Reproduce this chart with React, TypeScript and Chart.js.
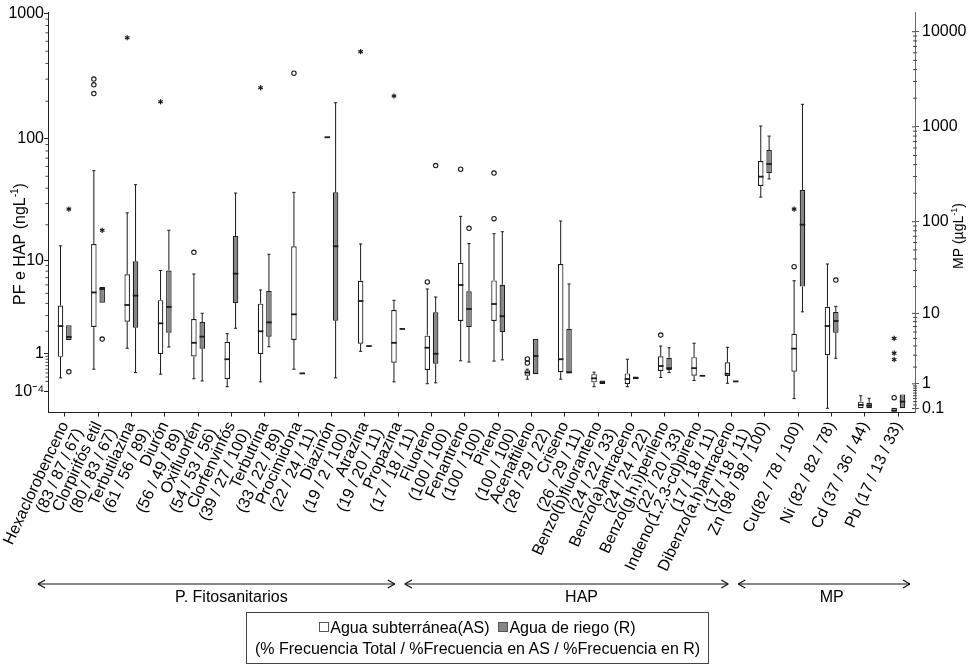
import React, { useEffect, useRef } from 'react';
import { Chart, registerables } from 'chart.js';

Chart.register(...registerables);

const FONT = "'Liberation Sans', Arial, Helvetica, sans-serif";

// ---------- categories ----------
const CATEGORIES: (string | string[])[] = [
  ['Hexaclorobenceno', '(83 / 87 / 67)'],
  ['Clorpirifós etil', '(80 / 83 / 67)'],
  ['Terbutilazina', '(61 / 56 / 89)'],
  ['Diurón', '(56 / 49 / 89)'],
  ['Oxifluorfén', '(54 / 53 / 56)'],
  ['Clorfenvinfós', '(39 / 27 / 100)'],
  ['Terbutrina', '(33 / 22 / 89)'],
  ['Procimidona', '(22 / 24 / 11)'],
  ['Diazinón', '(19 / 2 / 100)'],
  ['Atrazina', '(19 / 20 / 11)'],
  ['Propazina', '(17 / 18 / 11)'],
  ['Fluoreno', '(100 / 100)'],
  ['Fenantreno', '(100 / 100)'],
  ['Pireno', '(100 / 100)'],
  ['Acenaftileno', '(28 / 29 / 22)'],
  ['Criseno', '(26 / 29 / 11)'],
  ['Benzo(b)fluoranteno', '(24 / 22 / 33)'],
  ['Benzo(a)antraceno', '(24 / 24 / 22)'],
  ['Benzo(g,h,i)perileno', '(22 / 20 / 33)'],
  ['Indeno(1,2,3-cd)pireno', '(17 / 18 / 11)'],
  ['Dibenzo(a,h)antraceno', '(17 / 18 / 11)'],
  'Zn (98 / 98 / 100)',
  'Cu(82 / 78 / 100)',
  'Ni (82 / 82 / 78)',
  'Cd (37 / 36 / 44)',
  'Pb (17 / 13 / 33)',
];

const GROUPS = [
  { name: 'P. Fitosanitarios', first: 0, last: 10, axis: 'y' },
  { name: 'HAP', first: 11, last: 20, axis: 'y' },
  { name: 'MP', first: 21, last: 25, axis: 'y1' },
];

// ---------- Agua subterránea (AS) ----------
const AS_LOW = [0.28, 0.5, 1.2, 0.37, 0.26, 0.09, 0.19, 0.5, 103, 1.08, 0.19, 0.15, 0.75, 0.74, 0.25, 0.25, 0.09, 0.09, 0.29, 0.22, 0.16, 182, 0.4, 0.107, 0.107, 0.02];
const AS_Q1 = [0.88, 2.24, 2.57, 0.98, 0.89, 0.25, 0.98, 1.56, 103, 1.39, 0.69, 0.48, 2.62, 2.62, 0.33, 0.42, 0.18, 0.145, 0.45, 0.33, 0.325, 238, 1.68, 2.99, 0.107, 0.02];
const AS_MED = [2.3, 5.1, 3.85, 2.47, 1.43, 0.8, 2.0, 3.09, 103, 4.22, 1.43, 1.22, 5.99, 3.94, 0.41, 0.8, 0.27, 0.254, 0.59, 0.53, 0.38, 299, 3.68, 7.1, 0.2, 0.05];
const AS_Q3 = [3.8, 13.8, 7.5, 4.3, 2.75, 1.48, 3.97, 13.2, 103, 6.56, 3.43, 1.77, 9.5, 6.6, 0.47, 9.26, 0.37, 0.39, 0.9, 0.87, 0.7, 437, 5.7, 11.9, 0.3, 0.12];
const AS_HIGH = [13.3, 55.5, 25.1, 8.1, 7.55, 1.87, 5.38, 37, 103, 13.8, 4.28, 5.5, 23.5, 16.85, 0.5, 21.5, 0.42, 0.8, 1.29, 1.41, 1.24, 1021, 23.2, 35.3, 0.5, 0.12];
const AS_CIRCLES: number[][] = [[], [230, 270, 300], [], [], [11.7], [], [], [334], [], [], [], [6.4], [57], [22.5, 53], [0.68, 0.81], [], [], [], [1.8], [], [], [], [33], [], [], [0.43]];
const AS_STARS: number[][] = [[], [], [640], [198], [], [], [256], [], [], [496], [220], [], [], [], [], [], [], [], [], [], [], [], [136], [], [], [2.6, 3.2, 5.0]];

// ---------- Agua de riego (R) ----------
const R_LOW = [1.56, 4.06, 0.41, 1.25, 0.21, 2.17, 1.26, 0.39, 0.28, 1.29, 2.13, 0.17, 0.71, 0.78, 0.37, 0.39, 0.145, 0.25, 0.41, 0.33, 0.2, 283, 10.4, 2.71, 0.107, 0.107];
const R_Q1 = [1.56, 4.06, 2.2, 1.92, 1.18, 4.03, 1.72, 0.39, 2.64, 1.29, 2.13, 0.66, 2.23, 1.96, 0.37, 0.39, 0.145, 0.25, 0.48, 0.33, 0.2, 325, 20, 5.89, 0.107, 0.107];
const R_MED = [1.7, 5.5, 4.75, 3.68, 1.72, 7.6, 2.53, 0.39, 13.2, 1.29, 2.13, 0.99, 3.51, 2.95, 0.91, 0.42, 0.18, 0.28, 0.53, 0.33, 0.2, 407, 93, 8.14, 0.18, 0.3];
const R_Q3 = [2.35, 5.74, 9.8, 8.1, 2.55, 16.1, 5.26, 0.39, 37, 1.29, 2.13, 3.25, 5.23, 6.03, 1.6, 2.14, 0.22, 0.31, 0.85, 0.33, 0.2, 570, 216, 10.4, 0.267, 0.55];
const R_HIGH = [2.35, 5.74, 42.7, 18.0, 3.17, 36.5, 11.25, 0.39, 194.5, 1.29, 2.13, 4.61, 13.9, 17.5, 1.6, 6.12, 0.22, 0.31, 1.22, 0.33, 0.2, 800, 1726, 12, 0.41, 0.55];
const R_CIRCLES: number[][] = [[0.43], [1.6], [], [], [], [], [], [], [], [], [], [61], [18.7], [], [], [], [], [], [], [], [], [], [], [23.6], [], []];
const R_STARS: number[][] = [[27], [18], [], [], [], [], [], [], [], [], [], [], [], [], [], [], [], [], [], [], [], [], [], [], [], []];

// ---------- axes ----------
const LEFT_TICKS = [0.0001, 1, 10, 100, 1000];
const LEFT_TICK_LABELS = ['10⁻⁴', '1', '10', '100', '1000'];
const RIGHT_TICKS = [0.1, 1, 10, 100, 1000, 10000];
const RIGHT_TICK_LABELS = ['0.1', '1', '10', '100', '1000', '10000'];
const LEFT_RANGE = [-0.32, 1025];
const RIGHT_RANGE = [0, 16100];
const LEFT_MINOR_BASES = [0.1, 1, 10, 100];
const RIGHT_MINOR_BASES = [0.1, 1, 10, 100, 1000, 10000];

// log10(x + 1) transform used by both value axes
const toT = (v: number) => Math.log10(v + 1);

const AS_STATS = { low: AS_LOW, q1: AS_Q1, med: AS_MED, q3: AS_Q3, high: AS_HIGH, circles: AS_CIRCLES, stars: AS_STARS };
const R_STATS = { low: R_LOW, q1: R_Q1, med: R_MED, q3: R_Q3, high: R_HIGH, circles: R_CIRCLES, stars: R_STARS };

const axisOf = (i: number) => (GROUPS.find((g) => i >= g.first && i <= g.last) as any).axis;

function series(st: any, axis: string) {
  return st.q1.map((v: number, i: number) => (axisOf(i) === axis ? [toT(v), toT(st.q3[i])] : null));
}

function line(ctx: CanvasRenderingContext2D, x1: number, y1: number, x2: number, y2: number) {
  ctx.beginPath();
  ctx.moveTo(x1, y1);
  ctx.lineTo(x2, y2);
  ctx.stroke();
}

function drawRich(ctx: CanvasRenderingContext2D, segs: { t: string; sup?: boolean }[], cx: number, cy: number, size: number) {
  ctx.save();
  ctx.translate(cx, cy);
  ctx.rotate(-Math.PI / 2);
  ctx.fillStyle = '#000';
  ctx.textBaseline = 'middle';
  ctx.textAlign = 'left';
  const fonts = segs.map((s) => `${s.sup ? Math.round(size * 0.62) : size}px ${FONT}`);
  let total = 0;
  const widths = segs.map((s, k) => {
    ctx.font = fonts[k];
    const w = ctx.measureText(s.t).width;
    total += w;
    return w;
  });
  let x = -total / 2;
  segs.forEach((s, k) => {
    ctx.font = fonts[k];
    ctx.fillText(s.t, x, s.sup ? -size * 0.33 : 0);
    x += widths[k];
  });
  ctx.restore();
}

const boxPlugin = {
  id: 'boxExtras',
  afterDatasetsDraw(chart: any) {
    const ctx: CanvasRenderingContext2D = chart.ctx;
    ctx.save();
    chart.data.datasets.forEach((ds: any, d: number) => {
      const meta = chart.getDatasetMeta(d);
      const scale = chart.scales[ds.yAxisID];
      const st: any = ds.kind === 'AS' ? AS_STATS : R_STATS;
      const py = (v: number) => scale.getPixelForValue(toT(v));
      meta.data.forEach((el: any, i: number) => {
        if (ds.data[i] == null) return;
        const { x, width } = el.getProps(['x', 'width'], true);
        ctx.strokeStyle = '#1a1a1a';
        ctx.lineWidth = 1;
        if (st.high[i] > st.q3[i]) {
          line(ctx, x, py(st.q3[i]), x, py(st.high[i]));
          line(ctx, x - 1.6, py(st.high[i]), x + 1.6, py(st.high[i]));
        }
        if (st.low[i] < st.q1[i]) {
          line(ctx, x, py(st.q1[i]), x, py(st.low[i]));
          line(ctx, x - 1.6, py(st.low[i]), x + 1.6, py(st.low[i]));
        }
        ctx.lineWidth = 1.8;
        line(ctx, x - width / 2, py(st.med[i]), x + width / 2, py(st.med[i]));
        ctx.lineWidth = 1.1;
        st.circles[i].forEach((v: number) => {
          ctx.beginPath();
          ctx.arc(x, py(v), 2.2, 0, Math.PI * 2);
          ctx.stroke();
        });
        ctx.lineWidth = 1.2;
        st.stars[i].forEach((v: number) => {
          const y = py(v);
          for (let a = 0; a < 3; a++) {
            const ang = (a * Math.PI) / 3 + Math.PI / 2;
            const dx = Math.cos(ang) * 2.6;
            const dy = Math.sin(ang) * 2.6;
            line(ctx, x - dx, y - dy, x + dx, y + dy);
          }
        });
      });
    });
    ctx.restore();
  },
  afterDraw(chart: any) {
    const ctx: CanvasRenderingContext2D = chart.ctx;
    const yl = chart.scales.y;
    const yr = chart.scales.y1;
    const xs = chart.scales.x;
    const area = chart.chartArea;
    ctx.save();
    // minor ticks
    ctx.strokeStyle = '#444';
    ctx.lineWidth = 1;
    LEFT_MINOR_BASES.forEach((b) => {
      for (let k = 2; k <= 9; k++) {
        const p = yl.getPixelForValue(toT(k * b));
        if (p >= area.top && p <= area.bottom) line(ctx, area.left - 2.5, p, area.left, p);
      }
    });
    RIGHT_MINOR_BASES.forEach((b) => {
      for (let k = 2; k <= 9; k++) {
        const p = yr.getPixelForValue(toT(k * b));
        if (p >= area.top && p <= area.bottom) line(ctx, area.right - 2, p, area.right + 2, p);
      }
    });
    RIGHT_TICKS.forEach((v) => {
      const p = yr.getPixelForValue(toT(v));
      line(ctx, area.right - 3, p, area.right, p);
    });
    // axis titles
    drawRich(ctx, [{ t: 'PF e HAP (ngL' }, { t: '-1', sup: true }, { t: ')' }], 21, 244, 16);
    drawRich(ctx, [{ t: 'MP (µgL' }, { t: '-1', sup: true }, { t: ')' }], 959, 236, 14);
    // group arrows
    const w = xs.getPixelForValue(1) - xs.getPixelForValue(0);
    const ay = 584;
    ctx.strokeStyle = '#111';
    ctx.fillStyle = '#000';
    ctx.font = `16px ${FONT}`;
    ctx.textAlign = 'center';
    ctx.textBaseline = 'middle';
    GROUPS.forEach((g, gi) => {
      const x0 = xs.getPixelForValue(g.first) - 0.8 * w;
      const x1 = gi === GROUPS.length - 1 ? area.right - 5 : xs.getPixelForValue(g.last) - 0.1 * w;
      ctx.lineWidth = 1.2;
      line(ctx, x0, ay, x1, ay);
      line(ctx, x0, ay, x0 + 7, ay - 4);
      line(ctx, x0, ay, x0 + 7, ay + 4);
      line(ctx, x1, ay, x1 - 7, ay - 4);
      line(ctx, x1, ay, x1 - 7, ay + 4);
      let sum = 0;
      for (let i = g.first; i <= g.last; i++) sum += xs.getPixelForValue(i);
      const cx = sum / (g.last - g.first + 1);
      ctx.fillText(g.name, cx, 598);
    });
    ctx.restore();
  },
};

export default function App() {
  const ref = useRef<HTMLCanvasElement | null>(null);

  useEffect(() => {
    document.body.style.margin = '0';
    Chart.defaults.font.family = FONT;
    Chart.defaults.font.size = 16;
    Chart.defaults.color = '#000';

    const common = {
      borderColor: '#1a1a1a',
      borderWidth: 1.2,
      borderSkipped: false,
      skipNull: true,
      categoryPercentage: 0.5,
      barPercentage: 0.66,
    };
    const datasets: any[] = [
      { ...common, label: 'Agua subterránea (AS)', kind: 'AS', yAxisID: 'y', data: series(AS_STATS, 'y'), backgroundColor: '#ffffff' },
      { ...common, label: 'Agua de riego (R)', kind: 'R', yAxisID: 'y', data: series(R_STATS, 'y'), backgroundColor: '#858585' },
      { ...common, label: 'Agua subterránea (AS) MP', kind: 'AS', yAxisID: 'y1', data: series(AS_STATS, 'y1'), backgroundColor: '#ffffff' },
      { ...common, label: 'Agua de riego (R) MP', kind: 'R', yAxisID: 'y1', data: series(R_STATS, 'y1'), backgroundColor: '#858585' },
    ];

    const chart = new Chart(ref.current as HTMLCanvasElement, {
      type: 'bar',
      data: { labels: CATEGORIES as any, datasets },
      options: {
        responsive: false,
        animation: false,
        devicePixelRatio: 1,
        layout: { padding: { top: 12, left: 0, right: 0, bottom: 0 } },
        plugins: { legend: { display: false }, tooltip: { enabled: false } },
        scales: {
          x: {
            type: 'category',
            offset: true,
            grid: { display: true, drawOnChartArea: false, offset: false, tickLength: 4, color: '#222' },
            border: { display: true, color: '#222', width: 1 },
            ticks: { autoSkip: false, minRotation: 65, maxRotation: 65, padding: 3, color: '#000', font: { size: 16, lineHeight: 1.0 } },
            afterFit: (s: any) => {
              s.height = 252.5;
              s.paddingLeft = 0;
              s.paddingRight = 0;
            },
          },
          y: {
            type: 'linear',
            position: 'left',
            min: toT(LEFT_RANGE[0]),
            max: toT(LEFT_RANGE[1]),
            beginAtZero: false,
            grid: { display: true, drawOnChartArea: false, tickLength: 4, color: '#222' },
            border: { display: true, color: '#222', width: 1 },
            afterBuildTicks: (s: any) => {
              s.ticks = LEFT_TICKS.map((v) => ({ value: toT(v) }));
            },
            ticks: { autoSkip: false, padding: 0, color: '#000', font: { size: 16 }, callback: (_v: any, i: number) => LEFT_TICK_LABELS[i] },
            afterFit: (s: any) => {
              s.width = 48;
              s.paddingTop = 0;
              s.paddingBottom = 0;
            },
          },
          y1: {
            type: 'linear',
            position: 'right',
            min: toT(RIGHT_RANGE[0]),
            max: toT(RIGHT_RANGE[1]),
            beginAtZero: false,
            grid: { display: true, drawOnChartArea: false, tickLength: 4, color: '#555' },
            border: { display: true, color: '#666', width: 1 },
            afterBuildTicks: (s: any) => {
              s.ticks = RIGHT_TICKS.map((v) => ({ value: toT(v) }));
            },
            ticks: { autoSkip: false, padding: 3, color: '#000', font: { size: 16 }, callback: (_v: any, i: number) => RIGHT_TICK_LABELS[i] },
            afterFit: (s: any) => {
              s.width = 59;
              s.paddingTop = 0;
              s.paddingBottom = 0;
            },
          },
        },
      } as any,
      plugins: [boxPlugin as any],
    });
    return () => chart.destroy();
  }, []);

  const sq = (bg: string) => ({
    display: 'inline-block',
    width: 8,
    height: 8,
    border: '1px solid #555',
    background: bg,
    marginRight: 1,
    verticalAlign: 'middle',
    position: 'relative' as const,
    top: -2,
  });

  return (
    <div style={{ position: 'relative', width: 974, height: 665, fontFamily: FONT }}>
      <canvas ref={ref} width={974} height={665} style={{ display: 'block' }} />
      <div
        style={{
          position: 'absolute',
          left: 246,
          top: 612,
          width: 463,
          height: 52,
          border: '1px solid #444',
          boxSizing: 'border-box',
          fontSize: 16,
          lineHeight: '21px',
          textAlign: 'center',
          paddingTop: 4,
          color: '#000',
          whiteSpace: 'nowrap',
        }}
      >
        <div>
          <span style={sq('#ffffff')} />Agua subterránea(AS)&nbsp;&nbsp;<span style={sq('#858585')} />Agua de riego (R)
        </div>
        <div>(% Frecuencia Total / %Frecuencia en AS / %Frecuencia en R)</div>
      </div>
    </div>
  );
}
